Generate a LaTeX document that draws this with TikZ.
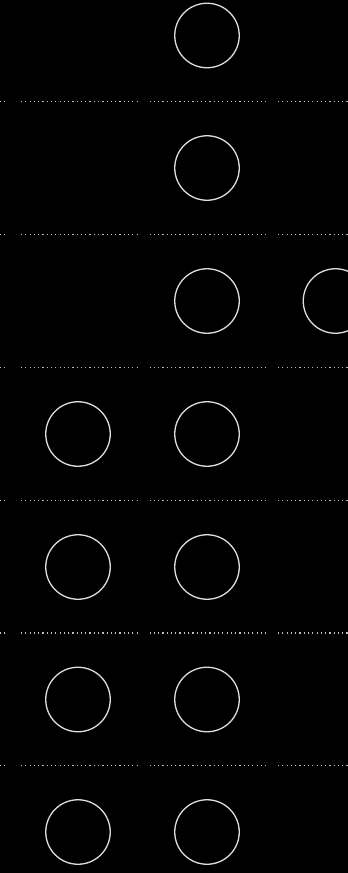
\documentclass[tikz,border=0pt]{standalone}
\begin{document}
\begin{tikzpicture}[x=1pt,y=-1pt,
  ring/.style={circle,draw={rgb,255:red,222;green,222;blue,222},line width=1.3pt,minimum size=64.5pt,inner sep=0pt},
  sep/.style={draw={rgb,255:red,190;green,190;blue,190},line width=1.1pt,dash pattern=on 1.2pt off 3.08pt}]
\fill[black] (0,0) rectangle (348,873);
\useasboundingbox (0,0) rectangle (348,873);
% circles
\node[ring] (r0b) at (207,35.5) {};
\node[ring] (r1b) at (207,168) {};
\node[ring] (r2b) at (207,301) {};
\node[ring] (r2c) at (335.5,301) {};
\node[ring] (r3a) at (78,434) {};
\node[ring] (r3b) at (207,434) {};
\node[ring] (r4a) at (78,567) {};
\node[ring] (r4b) at (207,567) {};
\node[ring] (r5a) at (78,699.5) {};
\node[ring] (r5b) at (207,699.5) {};
\node[ring] (r6a) at (78,832) {};
\node[ring] (r6b) at (207,832) {};
% dotted separators
\begin{scope}
\clip (0,0) rectangle (348,873);
\foreach \yy in {101.7,234.5,367.3,500.1,633,765.8}{
  \coordinate (s0a) at (-107,\yy); \coordinate (s0b) at (8.5,\yy);
  \coordinate (s1a) at (21,\yy); \coordinate (s1b) at (137,\yy);
  \coordinate (s2a) at (149.5,\yy); \coordinate (s2b) at (265.5,\yy);
  \coordinate (s3a) at (278,\yy); \coordinate (s3b) at (394,\yy);
  \draw[sep] (s0a) -- (s0b);
  \draw[sep] (s1a) -- (s1b);
  \draw[sep] (s2a) -- (s2b);
  \draw[sep] (s3a) -- (s3b);
}
\end{scope}
\end{tikzpicture}
\end{document}
